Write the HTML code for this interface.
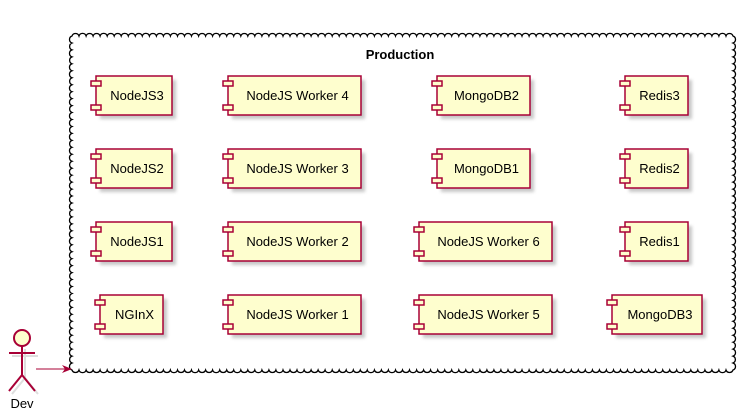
<!DOCTYPE html>
<html><head><meta charset="utf-8"><style>
html,body{margin:0;padding:0;background:#fff;width:741px;height:420px;overflow:hidden}
text{font-family:"Liberation Sans",sans-serif;font-size:13px;fill:#000}
</style></head><body>
<svg id="s" width="741" height="420" xmlns="http://www.w3.org/2000/svg">
<defs><filter id="sh" x="-20%" y="-20%" width="150%" height="160%"><feGaussianBlur stdDeviation="1.6"/></filter></defs>
<path id="cloud" fill="#fff" stroke="#000" stroke-width="1.3" d=""/>
<text x="400" y="59" text-anchor="middle" font-weight="bold">Production</text>
<g id="comps"></g>
<g fill="none" stroke="#c8c8c8" stroke-width="2" opacity="0.6" transform="translate(3,3)">
<line x1="22" y1="346" x2="22" y2="375"/><line x1="9" y1="353" x2="35" y2="353"/>
<polyline points="9,391 22,375 35,391"/></g>
<circle cx="22" cy="338" r="8" fill="#FEFECE" stroke="#A80036" stroke-width="2"/>
<g fill="none" stroke="#A80036" stroke-width="2">
<line x1="22" y1="346" x2="22" y2="375"/><line x1="9" y1="353" x2="35" y2="353"/>
<polyline points="9,391 22,375 35,391"/></g>
<text x="22" y="408" text-anchor="middle">Dev</text>
<line x1="36" y1="369" x2="68" y2="369" stroke="#A80036" stroke-width="1"/>
<polygon points="72,369 62,365 65,369 62,373" fill="#A80036"/>
</svg>
<script>
(function(){
var L=72,T=36,R=733,B=370,st=7,r=3.7,d="M"+L+","+T;
var n=Math.round((R-L)/st),s=(R-L)/n,x=L,y=T;
for(var i=0;i<n;i++){x+=s;d+=" A"+r+","+r+" 0 0 1 "+x.toFixed(1)+","+y;}
n=Math.round((B-T)/st);s=(B-T)/n;
for(i=0;i<n;i++){y+=s;d+=" A"+r+","+r+" 0 0 1 "+x+","+y.toFixed(1);}
n=Math.round((R-L)/st);s=(R-L)/n;
for(i=0;i<n;i++){x-=s;d+=" A"+r+","+r+" 0 0 1 "+x.toFixed(1)+","+y;}
n=Math.round((B-T)/st);s=(B-T)/n;
for(i=0;i<n;i++){y-=s;d+=" A"+r+","+r+" 0 0 1 "+x+","+y.toFixed(1);}
document.getElementById("cloud").setAttribute("d",d+"Z");
var rows=[76,149,222,295];
var c=[
["NodeJS3",96,172,0],["NodeJS Worker 4",228,361,0],["MongoDB2",437,530,0],["Redis3",625,688,0],
["NodeJS2",96,172,1],["NodeJS Worker 3",228,361,1],["MongoDB1",437,530,1],["Redis2",625,688,1],
["NodeJS1",96,172,2],["NodeJS Worker 2",228,361,2],["NodeJS Worker 6",419,552,2],["Redis1",625,688,2],
["NGInX",100,163,3],["NodeJS Worker 1",228,361,3],["NodeJS Worker 5",419,552,3],["MongoDB3",612,702,3]];
var h="";
c.forEach(function(o){var x1=o[1],x2=o[2],y=rows[o[3]],w=x2-x1,H=39;
h+='<rect x="'+(x1+4)+'" y="'+(y+4)+'" width="'+w+'" height="'+H+'" fill="#999" opacity="0.55" filter="url(#sh)"/>';
h+='<rect x="'+x1+'" y="'+y+'" width="'+w+'" height="'+H+'" fill="#FEFECE" stroke="#A80036" stroke-width="1.5"/>';
h+='<rect x="'+(x1-5)+'" y="'+(y+5)+'" width="10" height="5" fill="#FEFECE" stroke="#A80036" stroke-width="1.5"/>';
h+='<rect x="'+(x1-5)+'" y="'+(y+H-10)+'" width="10" height="5" fill="#FEFECE" stroke="#A80036" stroke-width="1.5"/>';
h+='<text x="'+((x1+x2)/2+3)+'" y="'+(y+24)+'" text-anchor="middle">'+o[0]+'</text>';});
document.getElementById("comps").innerHTML=h;
})();
</script>
</body></html>
